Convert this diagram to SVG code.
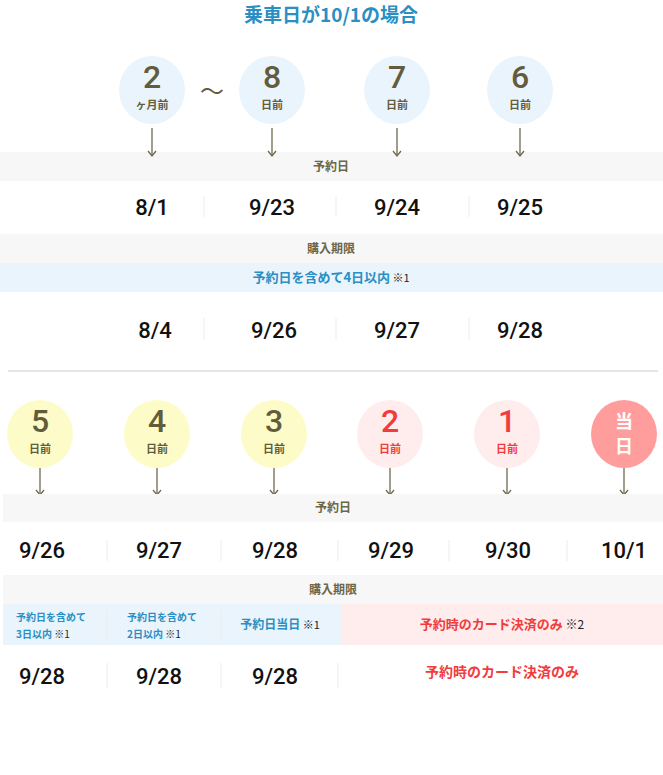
<svg xmlns="http://www.w3.org/2000/svg" width="663" height="775" viewBox="0 0 663 775">
<style>
text{font-family:"Noto Sans CJK JP","Noto Sans",sans-serif;text-anchor:middle}
.num{font-family:Roboto,"Noto Sans",sans-serif;font-size:32px;font-weight:500;fill:#625c3c}
.sub{font-size:11px;font-weight:700;fill:#625c3c}
.lab{font-size:12px;font-weight:700;fill:#6b6648}
.date{font-family:Roboto,"Noto Sans",sans-serif;font-size:22px;font-weight:500;fill:#111}
.blue{fill:#2a8fc3;font-weight:700}
.red{fill:#f23c3c;font-weight:700}
.note{fill:#222;font-weight:400}
.band{fill:#f7f7f7}
.sep{stroke:#ececec;stroke-width:1}
.arr{stroke:#6e6a4e;stroke-width:1.3;fill:none}
</style>
<defs>
<marker id="ah" markerWidth="10" markerHeight="10" refX="8" refY="5" orient="auto" markerUnits="userSpaceOnUse"><path d="M3,1 L8,5 L3,9" fill="none" stroke="#6e6a4e" stroke-width="1.3"/></marker>
</defs>
<text x="331" y="22" style="font-size:19px;font-weight:700;fill:#2a8fc3">乗車日が10/1の場合</text>

<g id="top-nodes">
<g id="n-2m"><ellipse cx="152" cy="90" rx="33" ry="34" fill="#eaf4fd"/><text class="num" x="152" y="88">2</text><text class="sub" x="152" y="109">ヶ月前</text></g>
<text x="212" y="100" style="font-size:24px;fill:#625c3c">～</text>
<g id="n-8"><ellipse cx="272" cy="90" rx="33" ry="34" fill="#eaf4fd"/><text class="num" x="272" y="88">8</text><text class="sub" x="272" y="109">日前</text></g>
<g id="n-7"><ellipse cx="397" cy="90" rx="33" ry="34" fill="#eaf4fd"/><text class="num" x="397" y="88">7</text><text class="sub" x="397" y="109">日前</text></g>
<g id="n-6"><ellipse cx="520" cy="90" rx="33" ry="34" fill="#eaf4fd"/><text class="num" x="520" y="88">6</text><text class="sub" x="520" y="109">日前</text></g>
</g>

<rect class="band" x="0" y="152" width="663" height="29"/>
<text class="lab" x="331" y="171">予約日</text>
<g id="connectors">
<line class="arr" x1="152" y1="128" x2="152" y2="156" marker-end="url(#ah)"/>
<line class="arr" x1="272" y1="128" x2="272" y2="156" marker-end="url(#ah)"/>
<line class="arr" x1="397" y1="128" x2="397" y2="156" marker-end="url(#ah)"/>
<line class="arr" x1="520" y1="128" x2="520" y2="156" marker-end="url(#ah)"/>
<line class="arr" x1="40" y1="468" x2="40" y2="495" marker-end="url(#ah)"/>
<line class="arr" x1="157" y1="468" x2="157" y2="495" marker-end="url(#ah)"/>
<line class="arr" x1="274" y1="468" x2="274" y2="495" marker-end="url(#ah)"/>
<line class="arr" x1="390" y1="468" x2="390" y2="495" marker-end="url(#ah)"/>
<line class="arr" x1="507" y1="468" x2="507" y2="495" marker-end="url(#ah)"/>
<line class="arr" x1="624" y1="468" x2="624" y2="495" marker-end="url(#ah)"/>
</g>

<g id="top-dates">
<text class="date" x="152" y="215">8/1</text><text class="date" x="272" y="215">9/23</text><text class="date" x="397" y="215">9/24</text><text class="date" x="520" y="215">9/25</text>
<line class="sep" x1="204" y1="196" x2="204" y2="217"/><line class="sep" x1="336" y1="196" x2="336" y2="217"/><line class="sep" x1="469" y1="196" x2="469" y2="217"/>
</g>
<rect class="band" x="0" y="234" width="663" height="29"/>
<text class="lab" x="331" y="253">購入期限</text>
<rect x="0" y="263" width="663" height="29" fill="#eaf4fd"/>
<text x="331" y="282" style="font-size:13px"><tspan class="blue">予約日を含めて4日以内</tspan><tspan class="note" font-size="11"> ※1</tspan></text>
<g id="top-limits">
<text class="date" x="155" y="338">8/4</text><text class="date" x="274" y="338">9/26</text><text class="date" x="397" y="338">9/27</text><text class="date" x="520" y="338">9/28</text>
<line class="sep" x1="204" y1="318" x2="204" y2="340"/><line class="sep" x1="336" y1="318" x2="336" y2="340"/><line class="sep" x1="469" y1="318" x2="469" y2="340"/>
</g>
<line x1="8" y1="371" x2="658" y2="371" stroke="#dddddd" stroke-width="1.5"/>

<g id="bottom-nodes">
<g id="n-5"><ellipse cx="40" cy="434" rx="33" ry="34" fill="#fdfcc8"/><text class="num" x="40" y="432">5</text><text class="sub" x="40" y="453">日前</text></g>
<g id="n-4"><ellipse cx="157" cy="434" rx="33" ry="34" fill="#fdfcc8"/><text class="num" x="157" y="432">4</text><text class="sub" x="157" y="453">日前</text></g>
<g id="n-3"><ellipse cx="274" cy="434" rx="33" ry="34" fill="#fdfcc8"/><text class="num" x="274" y="432">3</text><text class="sub" x="274" y="453">日前</text></g>
<g id="n-2"><ellipse cx="390" cy="434" rx="33" ry="34" fill="#ffecec"/><text class="num" x="390" y="432" style="fill:#f23c3c">2</text><text class="sub" x="390" y="453" style="fill:#f23c3c">日前</text></g>
<g id="n-1"><ellipse cx="507" cy="434" rx="33" ry="34" fill="#ffecec"/><text class="num" x="507" y="432" style="fill:#f23c3c">1</text><text class="sub" x="507" y="453" style="fill:#f23c3c">日前</text></g>
<g id="n-0"><ellipse cx="624" cy="434" rx="33" ry="34" fill="#ff9c9c"/><text x="624" y="428" style="font-size:18px;font-weight:700;fill:#fff">当</text><text x="624" y="453" style="font-size:18px;font-weight:700;fill:#fff">日</text></g>
</g>

<rect class="band" x="3" y="494" width="660" height="28"/>
<text class="lab" x="333" y="512">予約日</text>
<g id="bottom-dates">
<text class="date" x="42" y="558">9/26</text><text class="date" x="159" y="558">9/27</text><text class="date" x="275" y="558">9/28</text><text class="date" x="391" y="558">9/29</text><text class="date" x="508" y="558">9/30</text><text class="date" x="624" y="558">10/1</text>
<line class="sep" x1="107" y1="540" x2="107" y2="561"/><line class="sep" x1="221" y1="540" x2="221" y2="561"/><line class="sep" x1="338" y1="540" x2="338" y2="561"/><line class="sep" x1="449" y1="540" x2="449" y2="561"/><line class="sep" x1="567" y1="540" x2="567" y2="561"/>
</g>
<rect class="band" x="3" y="575" width="660" height="29"/>
<text class="lab" x="333" y="594">購入期限</text>
<rect x="3" y="604" width="338" height="41" fill="#eaf4fd"/>
<rect x="341" y="604" width="322" height="41" fill="#ffecec"/>
<line class="sep" x1="107" y1="609" x2="107" y2="641" stroke="#dde8f2"/><line class="sep" x1="221" y1="609" x2="221" y2="641" stroke="#dde8f2"/>
<g id="bottom-limit-labels" style="font-size:10px">
<text x="16" y="621" style="text-anchor:start"><tspan class="blue">予約日を含めて</tspan></text>
<text x="16" y="638" style="text-anchor:start"><tspan class="blue">3日以内</tspan><tspan class="note"> ※1</tspan></text>
<text x="127" y="621" style="text-anchor:start"><tspan class="blue">予約日を含めて</tspan></text>
<text x="127" y="638" style="text-anchor:start"><tspan class="blue">2日以内</tspan><tspan class="note"> ※1</tspan></text>
<text x="280" y="629" style="font-size:12px"><tspan class="blue">予約日当日</tspan><tspan class="note" font-size="11"> ※1</tspan></text>
<text x="502" y="629" style="font-size:13px"><tspan class="red">予約時のカード決済のみ</tspan><tspan class="note" font-size="12"> ※2</tspan></text>
</g>
<g id="bottom-limits">
<text class="date" x="42" y="684">9/28</text><text class="date" x="159" y="684">9/28</text><text class="date" x="275" y="684">9/28</text>
<text x="502" y="677" style="font-size:14px" class="red">予約時のカード決済のみ</text>
<line class="sep" x1="107" y1="663" x2="107" y2="688"/><line class="sep" x1="221" y1="663" x2="221" y2="688"/><line class="sep" x1="338" y1="663" x2="338" y2="688"/>
</g>
</svg>
